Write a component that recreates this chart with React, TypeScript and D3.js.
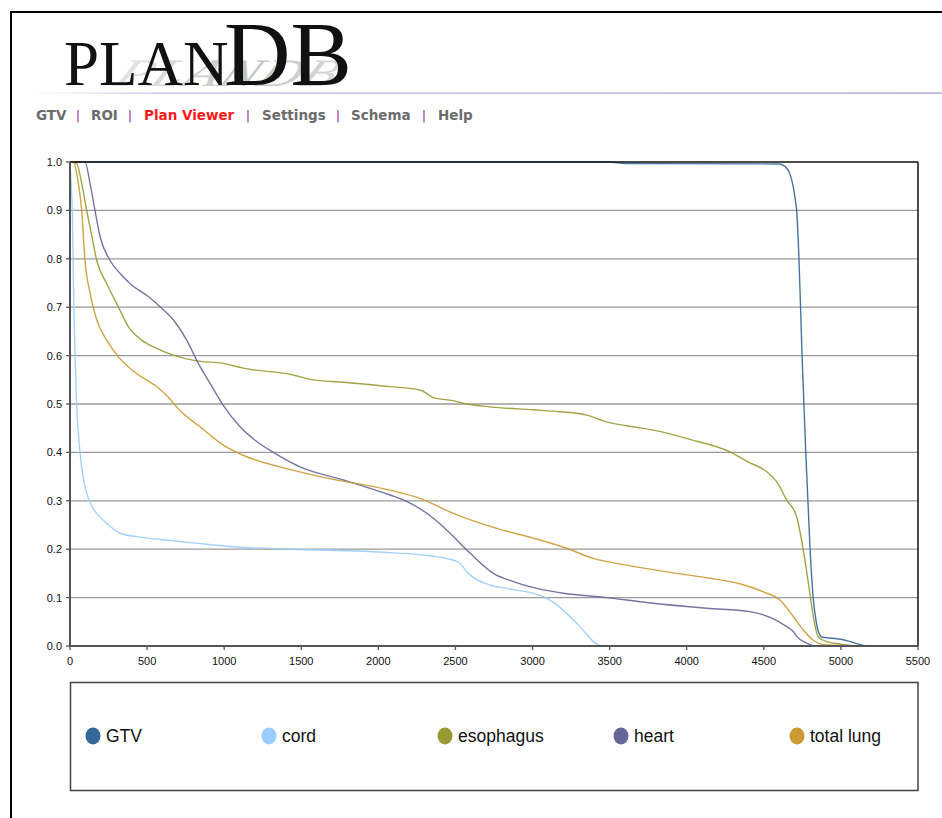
import React from 'react';
import * as d3 from 'd3';

type Pt = [number, number];

const X_TICKS = [0, 500, 1000, 1500, 2000, 2500, 3000, 3500, 4000, 4500, 5000, 5500];
const Y_TICKS = [0, 0.1, 0.2, 0.3, 0.4, 0.5, 0.6, 0.7, 0.8, 0.9, 1.0];
const SERIES_NAMES = ['GTV', 'cord', 'esophagus', 'heart', 'total lung'];
const NAV_ITEMS = ['GTV', 'ROI', 'Plan Viewer', 'Settings', 'Schema', 'Help'];
const NAV_ACTIVE = 'Plan Viewer';

const GTV: Pt[] = [
  [0, 1], [3500, 1], [3600, 0.997], [4600, 0.996], [4640, 0.99], [4670, 0.975], [4690, 0.95],
  [4705, 0.92], [4713, 0.9], [4728, 0.8], [4748, 0.6], [4772, 0.4], [4800, 0.2], [4820, 0.1],
  [4840, 0.05], [4860, 0.025], [4880, 0.018], [4950, 0.016], [5000, 0.014], [5050, 0.01],
  [5100, 0.005], [5160, 0],
];
const CORD: Pt[] = [
  [0, 1], [8, 0.95], [15, 0.9], [25, 0.7], [33, 0.6], [43, 0.5], [65, 0.4], [90, 0.34],
  [125, 0.3], [170, 0.275], [216, 0.26], [324, 0.233], [433, 0.226], [584, 0.22], [798, 0.213],
  [1057, 0.205], [1446, 0.2], [2075, 0.193], [2292, 0.188], [2450, 0.18], [2519, 0.173],
  [2594, 0.147], [2724, 0.126], [2832, 0.119], [3070, 0.102], [3157, 0.085], [3308, 0.04],
  [3416, 0.004], [3450, 0],
];
const ESOPHAGUS: Pt[] = [
  [0, 1], [43, 0.997], [76, 0.956], [108, 0.9], [140, 0.85], [173, 0.797], [238, 0.749],
  [313, 0.701], [378, 0.66], [465, 0.632], [562, 0.615], [670, 0.601], [822, 0.589],
  [994, 0.584], [1124, 0.574], [1448, 0.56], [1557, 0.551], [1773, 0.545], [2075, 0.536],
  [2270, 0.529], [2367, 0.512], [2486, 0.507], [2573, 0.5], [2724, 0.494], [3005, 0.488],
  [3178, 0.484], [3351, 0.477], [3481, 0.463], [3611, 0.455], [3783, 0.446], [4021, 0.427],
  [4281, 0.401], [4400, 0.38], [4519, 0.36], [4584, 0.339], [4648, 0.302], [4713, 0.267],
  [4756, 0.198], [4789, 0.13], [4821, 0.061], [4853, 0.019], [4908, 0.009], [4994, 0.004],
  [5080, 0],
];
const HEART: Pt[] = [
  [0, 1], [97, 1], [130, 0.956], [162, 0.9], [195, 0.846], [259, 0.797], [324, 0.77],
  [400, 0.746], [508, 0.722], [584, 0.701], [670, 0.674], [757, 0.632], [832, 0.584],
  [908, 0.543], [994, 0.497], [1103, 0.453], [1200, 0.425], [1319, 0.4], [1492, 0.37],
  [1773, 0.343], [2075, 0.312], [2162, 0.302], [2357, 0.264], [2465, 0.233], [2594, 0.192],
  [2746, 0.15], [2875, 0.133], [3027, 0.119], [3200, 0.109], [3481, 0.1], [3740, 0.09],
  [4129, 0.078], [4410, 0.071], [4562, 0.056], [4648, 0.04], [4691, 0.03], [4713, 0.02],
  [4778, 0.006], [4821, 0],
];
const TOTAL_LUNG: Pt[] = [
  [0, 1], [22, 1], [54, 0.956], [76, 0.9], [97, 0.797], [130, 0.729], [173, 0.674],
  [238, 0.632], [313, 0.598], [432, 0.563], [562, 0.536], [650, 0.51], [702, 0.49],
  [843, 0.453], [994, 0.415], [1146, 0.391], [1362, 0.37], [1621, 0.35], [2075, 0.322],
  [2270, 0.305], [2486, 0.274], [2767, 0.243], [3005, 0.223], [3221, 0.202], [3394, 0.181],
  [3611, 0.167], [3913, 0.151], [4151, 0.14], [4350, 0.128], [4497, 0.112], [4605, 0.095],
  [4691, 0.061], [4756, 0.033], [4821, 0.012], [4870, 0.004], [4929, 0.002], [5037, 0],
];

const SERIES_DATA: Pt[][] = [GTV, CORD, ESOPHAGUS, HEART, TOTAL_LUNG];
const COLORS = ['#336699', '#99ccff', '#999933', '#666699', '#cc9933'];
const NAV_X = [36, 91, 144, 262, 351, 438];
const NAV_SEP_X = [78, 130, 248, 338, 424];

export default function App() {
  const left = 70, right = 918, top = 162, bottom = 646;
  const x = d3.scaleLinear().domain([0, 5500]).range([left, right]);
  const y = d3.scaleLinear().domain([0, 1]).range([bottom, top]);
  const line = d3.line<Pt>().x(d => x(d[0])).y(d => y(d[1])).curve(d3.curveMonotoneX);
  const font = 'Liberation Sans, Arial, sans-serif';

  return (
    <svg width={942} height={818} style={{ position: 'absolute', left: 0, top: 0, background: '#fff' }}>
      <defs>
        <linearGradient id="hr" x1="0" x2="1" y1="0" y2="0">
          <stop offset="0" stopColor="#ffffff" />
          <stop offset="0.15" stopColor="#b8b8e0" />
          <stop offset="1" stopColor="#9a9ad6" />
        </linearGradient>
        <linearGradient id="ghost" x1="0" x2="1" y1="0" y2="0">
          <stop offset="0" stopColor="#e4e4e4" />
          <stop offset="0.6" stopColor="#c4c4c4" />
          <stop offset="1" stopColor="#d8d8d8" />
        </linearGradient>
      </defs>
      <rect x={0} y={0} width={942} height={818} fill="#fff" />
      {/* page frame */}
      <line x1={11} y1={12} x2={942} y2={12} stroke="#000" strokeWidth={2} />
      <line x1={11} y1={11} x2={11} y2={818} stroke="#000" strokeWidth={2} />

      {/* logo */}
      <g transform="translate(112,86) skewX(-28) scale(1.05,0.72)">
        <text x={0} y={0} fontFamily="Liberation Serif, serif" fontStyle="italic" fontSize={54}
          fill="url(#ghost)" letterSpacing={1}>PLANDB</text>
      </g>
      <text x={64} y={85} fontFamily="Liberation Serif, Times New Roman, serif" fontSize={63} fill="#111">PLAN</text>
      <text x={224} y={85} fontFamily="Liberation Serif, Times New Roman, serif" fontSize={92} fill="#111">DB</text>
      <rect x={30} y={92.5} width={912} height={1.2} fill="url(#hr)" />

      {/* navigation */}
      {NAV_ITEMS.map((n, i) => (
        <text key={n} x={NAV_X[i]} y={120} fontFamily="DejaVu Sans, Verdana, sans-serif" fontWeight="bold"
          fontSize={13.5} fill={n === NAV_ACTIVE ? '#ff1a1a' : '#6b6b6b'}>{n}</text>
      ))}
      {NAV_SEP_X.map((sx, i) => (
        <text key={i} x={sx} y={120} fontFamily="DejaVu Sans, Verdana, sans-serif" fontSize={13}
          fill="#993399" textAnchor="middle">|</text>
      ))}

      {/* grid */}
      {Y_TICKS.filter(t => t > 0 && t < 1).map(t => (
        <line key={t} x1={left} x2={right} y1={y(t)} y2={y(t)} stroke="#9a9a9a" strokeWidth={1.3} />
      ))}
      {/* series */}
      {SERIES_DATA.map((d, i) => (
        <path key={SERIES_NAMES[i]} d={line(d) || ''} fill="none" stroke={COLORS[i]} strokeWidth={1.4}
          strokeOpacity={0.9} />
      ))}
      {/* frame */}
      <line x1={left} x2={right} y1={top} y2={top} stroke="#111" strokeWidth={1.5} />
      <line x1={right} x2={right} y1={top} y2={bottom} stroke="#111" strokeWidth={1.5} />
      <line x1={left} x2={left} y1={top} y2={bottom + 1} stroke="#555" strokeWidth={2} />
      <line x1={left - 1} x2={right} y1={bottom} y2={bottom} stroke="#555" strokeWidth={2} />

      {/* y axis */}
      {Y_TICKS.map(t => (
        <g key={t}>
          <line x1={left - 4} x2={left} y1={y(t)} y2={y(t)} stroke="#555" strokeWidth={1.3} />
          <text x={62} y={y(t) + 4} textAnchor="end" fontFamily={font} fontSize={11} fill="#111">
            {d3.format('.1f')(t)}
          </text>
        </g>
      ))}
      {/* x axis */}
      {X_TICKS.map(t => (
        <g key={t}>
          <line x1={x(t)} x2={x(t)} y1={bottom} y2={bottom + 4} stroke="#555" strokeWidth={1.3} />
          <text x={x(t)} y={665} textAnchor="middle" fontFamily={font} fontSize={11} fill="#111">{t}</text>
        </g>
      ))}

      {/* legend */}
      <rect x={70.5} y={682.5} width={847.5} height={108} fill="#fff" stroke="#444" strokeWidth={1.5} />
      {SERIES_NAMES.map((n, i) => (
        <g key={n} transform={`translate(${93 + i * 176},736)`}>
          <ellipse cx={0} cy={0} rx={7.5} ry={8.5} fill={COLORS[i]} />
          <text x={13} y={6} fontFamily={font} fontSize={17.5} fill="#111">{n}</text>
        </g>
      ))}
    </svg>
  );
}
